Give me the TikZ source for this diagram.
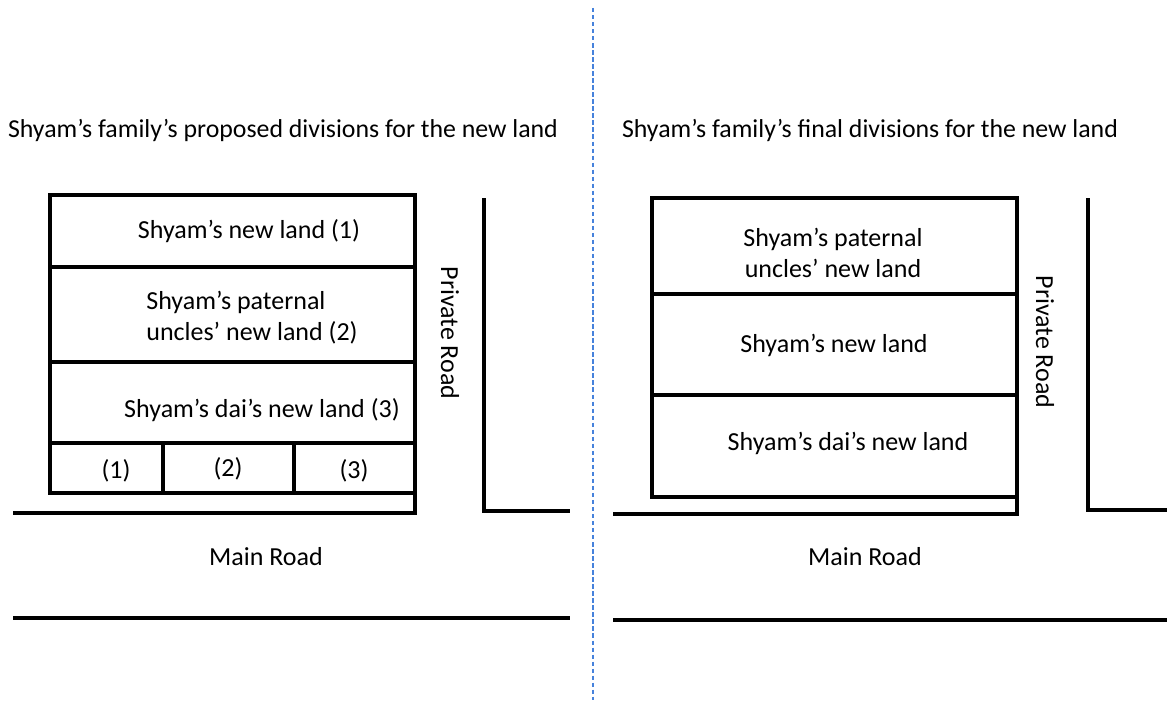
\documentclass[tikz,border=0pt]{standalone}
\usepackage{fontspec}
\setmainfont{Carlito}
\usepackage{tikz}
\tikzset{wall/.style={line width=2.3pt,line cap=rect}}
\tikzset{plot/.style={font=\fontsize{14.8pt}{17.5pt}\selectfont,align=center}}
\begin{document}
\begin{tikzpicture}[x=0.02cm,y=-0.02cm,font=\fontsize{14.7pt}{17pt}\selectfont]
	\useasboundingbox (0,0) rectangle (1167,702);
	\draw[dashed,color={rgb,255:red,70;green,130;blue,220},line width=0.6pt,dash pattern=on 2.5pt off 1.5pt] (593,8)--(593,700);
	% proposed
	\node (titleA) at (283,130) {Shyam’s family’s proposed divisions for the new land};
	\draw[wall] (415,513)--(415,195)--(50,195)--(50,493)--(415,493);
	\draw[wall] (50,267)--(415,267) (50,362)--(415,362) (50,443)--(415,443);
	\draw[wall] (163,443)--(163,493) (294,443)--(294,493);
	\draw[wall] (15,513)--(415,513);
	\draw[wall] (484,200)--(484,511)--(568,511);
	\draw[wall] (15,618)--(568,618);
	\node[plot] (landA1) at (249,231) {Shyam’s new land (1)};
	\node[plot,align=left] (landA2) at (252,318) {Shyam’s paternal\\ uncles’ new land (2)};
	\node[plot] (landA3) at (262,410) {Shyam’s dai’s new land (3)};
	\node[plot] (cellA1) at (116,471) {(1)};
	\node[plot] (cellA2) at (228,469) {(2)};
	\node[plot] (cellA3) at (354,471) {(3)};
	\node[plot,rotate=-90] (privA) at (450,333) {Private Road};
	\node[plot] (mainA) at (266,557) {Main Road};
	% final
	\node (titleB) at (870,130) {Shyam’s family’s final divisions for the new land};
	\draw[wall] (1017,513)--(1017,198)--(652,198)--(652,497)--(1017,497);
	\draw[wall] (652,294)--(1017,294) (652,395)--(1017,395);
	\draw[wall] (615,514)--(1017,514);
	\draw[wall] (1088,200)--(1088,510)--(1167,510);
	\draw[wall] (615,620)--(1167,620);
	\node[plot] (landB1) at (833,253) {Shyam’s paternal\\uncles’ new land};
	\node[plot] (landB2) at (834,345) {Shyam’s new land};
	\node[plot] (landB3) at (848,443) {Shyam’s dai’s new land};
	\node[plot,rotate=-90] (privB) at (1045,342) {Private Road};
	\node[plot] (mainB) at (865,557) {Main Road};
\end{tikzpicture}
\end{document}
